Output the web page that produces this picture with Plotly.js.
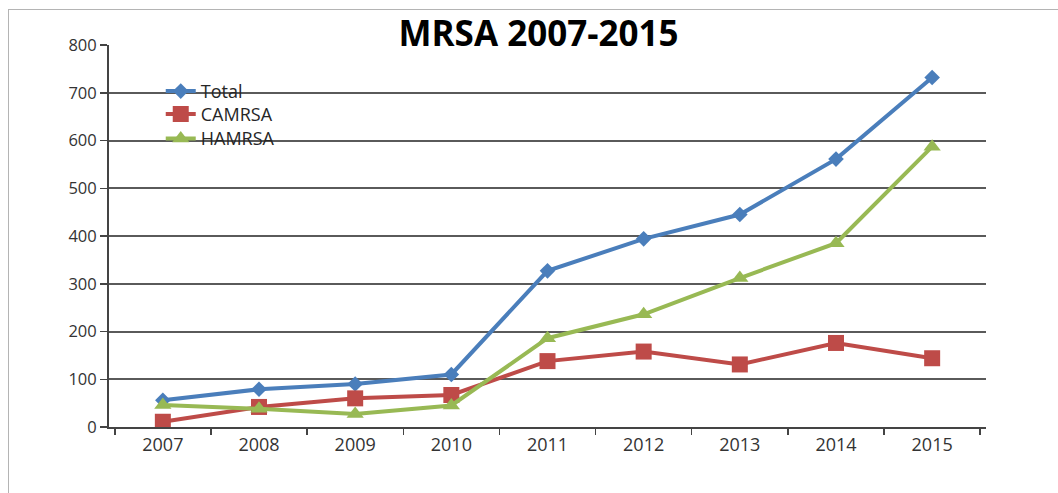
<!DOCTYPE html>
<html>
<head>
<meta charset="utf-8">
<script src="https://cdn.plot.ly/plotly-3.0.1.min.js"></script>
<style>
  body { margin: 0; background: #fff; }
  #wrap { position: relative; width: 1058px; height: 493px; overflow: hidden; }
  #chart { width: 1058px; height: 493px; }
  #frame { position: absolute; left: 8px; top: 9px; width: 1100px; height: 600px;
           border: 1px solid #b4b4b4; pointer-events: none; }
</style>
</head>
<body>
<div id="wrap">
  <div id="chart"></div>
  <div id="frame"></div>
</div>
<script>
// years on the x axis
const years = ['2007', '2008', '2009', '2010', '2011', '2012', '2013', '2014', '2015'];

// case counts
const total  = [56, 79, 90, 110, 327, 394, 445, 561, 732];
const camrsa = [11, 42, 60, 67, 138, 158, 131, 176, 144];
const hamrsa = [46, 38, 27, 45, 186, 236, 312, 385, 587];

const yTicks = [0, 100, 200, 300, 400, 500, 600, 700, 800];

function series(name, y, color, symbol, size, legendId) {
    return {
        x: years,
        y: y,
        name: name,
        legend: legendId,
        mode: 'lines+markers',
        line: { color: color, width: 4 },
        marker: { color: color, symbol: symbol, size: size },
        hoverinfo: 'x+y+name'
    };
}

const data = [
    series('Total', total, '#4a7ebb', 'diamond', 12, 'legend'),
    series('CAMRSA', camrsa, '#be4b48', 'square', 16, 'legend2'),
    series('HAMRSA', hamrsa, '#98b954', 'triangle-up', 15, 'legend3')
];

// one legend box per entry so the rows sit where the original has them
function legendBox(yPos) {
    return {
        x: 0.059, y: yPos,
        xanchor: 'left', yanchor: 'top',
        bgcolor: 'rgba(0,0,0,0)',
        itemwidth: 30,
        font: { size: 18, color: '#262626' }
    };
}

const layout = {
    width: 1058,
    height: 493,
    margin: { l: 109, r: 72, t: 45, b: 66 },
    paper_bgcolor: '#fff',
    plot_bgcolor: '#fff',
    font: { family: 'Open Sans, sans-serif', color: '#333' },
    title: {
        text: '<b>MRSA 2007-2015</b>',
        font: { family: 'Open Sans, sans-serif', size: 35, color: '#000' },
        xref: 'container', x: 0.509,
        yref: 'container', y: 0.932, yanchor: 'middle'
    },
    xaxis: {
        type: 'category',
        tickson: 'boundaries',
        ticks: 'outside',
        ticklen: 6,
        tickcolor: '#444',
        tickwidth: 1.5,
        showline: true,
        linecolor: '#444',
        linewidth: 2,
        showgrid: false,
        tickfont: { size: 18 },
        fixedrange: true
    },
    yaxis: {
        range: [0, 800],
        tickvals: yTicks,
        ticks: 'outside',
        ticklen: 7,
        tickcolor: '#444',
        tickwidth: 1.5,
        showline: true,
        linecolor: '#444',
        linewidth: 2,
        gridcolor: '#5a5a5a',
        gridwidth: 2,
        zeroline: false,
        tickfont: { size: 16.5 },
        fixedrange: true
    },
    legend: legendBox(0.927),
    legend2: legendBox(0.867),
    legend3: legendBox(0.803),
    showlegend: true
};

Plotly.newPlot('chart', data, layout, { displayModeBar: false, staticPlot: true });
</script>
</body>
</html>
